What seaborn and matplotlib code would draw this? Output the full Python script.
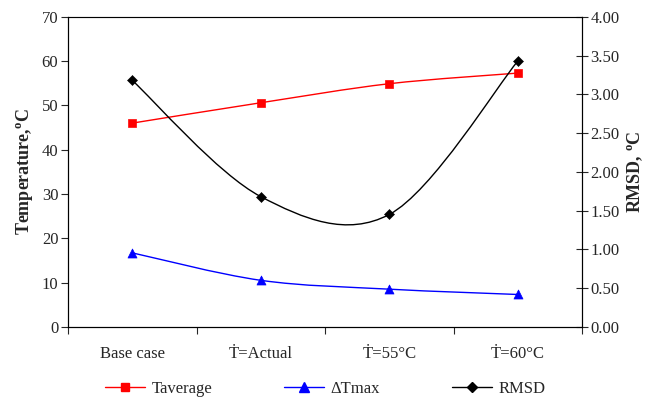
import numpy as np
import pandas as pd
import seaborn as sns
import matplotlib.pyplot as plt
from matplotlib.path import Path
from matplotlib.patches import PathPatch
from matplotlib.lines import Line2D

sns.set_style('white')
plt.rc('font', size=12, family=['Liberation Serif', 'DejaVu Serif'])
plt.rc('mathtext', fontset='custom', rm='Liberation Serif', bf='Liberation Serif:bold')

# data
categories = ['Base case', '\u1E6A=Actual', '\u1E6A=55\u00b0C', '\u1E6A=60\u00b0C']
t_average = [46.0, 50.6, 54.9, 57.3]
dt_max = [16.7, 10.5, 8.5, 7.3]
rmsd = [3.18, 1.68, 1.45, 3.43]


# excel-like smoothed line: catmull-rom segments as cubic bezier
def _smooth_path(xs, ys):
    pts = np.column_stack([xs, ys]).astype(float)
    ext = np.vstack([pts[0], pts, pts[-1]])
    verts = [pts[0]]
    codes = [Path.MOVETO]
    for i in range(len(pts) - 1):
        p0, p1, p2, p3 = ext[i], ext[i + 1], ext[i + 2], ext[i + 3]
        verts += [p1 + (p2 - p0) / 6, p2 - (p3 - p1) / 6, p2]
        codes += [Path.CURVE4] * 3
    return Path(verts, codes)


df = pd.DataFrame({'x': np.arange(len(categories)) + 0.5, 'tavg': t_average,
                   'dtmax': dt_max, 'rmsd': rmsd})

fig = plt.figure(figsize=(6.6, 4.01), dpi=100)
ax = fig.add_axes([0.103, 0.185, 0.779, 0.773])
ax2 = ax.twinx()

ax.add_patch(PathPatch(_smooth_path(df['x'], df['tavg']), fill=False, edgecolor='#ff0000', lw=1.0))
ax.add_patch(PathPatch(_smooth_path(df['x'], df['dtmax']), fill=False, edgecolor='#0000ff', lw=1.0))
ax2.add_patch(PathPatch(_smooth_path(df['x'], df['rmsd']), fill=False, edgecolor='black', lw=1.0))
sns.scatterplot(x='x', y='tavg', data=df, marker='s', s=36, color='#ff0000', edgecolor='#ff0000', ax=ax, zorder=3)
sns.scatterplot(x='x', y='dtmax', data=df, marker='^', s=42, color='#0000ff', edgecolor='#0000ff', ax=ax, zorder=3)
sns.scatterplot(x='x', y='rmsd', data=df, marker='D', s=26, color='black', edgecolor='black', ax=ax2, zorder=3)

ax.set_xlim(0, 4)
ax.set_ylim(0, 70)
ax2.set_ylim(0, 4)
ax.set_yticks(range(0, 71, 10))
ax2.set_yticks(np.arange(0, 4.01, 0.5))
ax2.set_yticklabels(['%.2f' % v for v in np.arange(0, 4.01, 0.5)])
ax.set_xticks(range(0, 5))
ax.set_xticklabels([])
ax.set_xticks(df['x'], minor=True)
ax.set_xticklabels(categories, minor=True)
ax.tick_params(axis='x', which='minor', length=0, pad=14)
ax.tick_params(axis='x', which='major', direction='out', length=5, width=0.8, bottom=True)
ax.tick_params(axis='y', direction='out', length=5, width=0.8, left=True, pad=2)
ax2.tick_params(axis='y', direction='inout', length=8, width=0.8, right=True, pad=2)
ax.set_xlabel('')
ax.set_ylabel('Temperature,$^{\\mathbf{o}}$C', fontweight='bold', fontsize=13, labelpad=4)
ax2.set_ylabel('RMSD, $^{\\mathbf{o}}$C', fontweight='bold', fontsize=13, rotation=90, labelpad=4)
for a in (ax, ax2):
    for s in a.spines.values():
        s.set_color('black')
        s.set_linewidth(0.8)
ax.spines['top'].set_color('#808080')

handles = [Line2D([], [], color='#ff0000', marker='s', markersize=6, lw=1.0),
           Line2D([], [], color='#0000ff', marker='^', markersize=6.5, lw=1.0),
           Line2D([], [], color='black', marker='D', markersize=5, lw=1.0)]
ax.legend(handles, ['Taverage', '\u0394Tmax', 'RMSD'], loc='upper center', bbox_to_anchor=(0.5, -0.125),
          ncol=3, frameon=False, handlelength=2.4, columnspacing=4.3, handletextpad=0.4)

fig.savefig('out.png', dpi=100)
